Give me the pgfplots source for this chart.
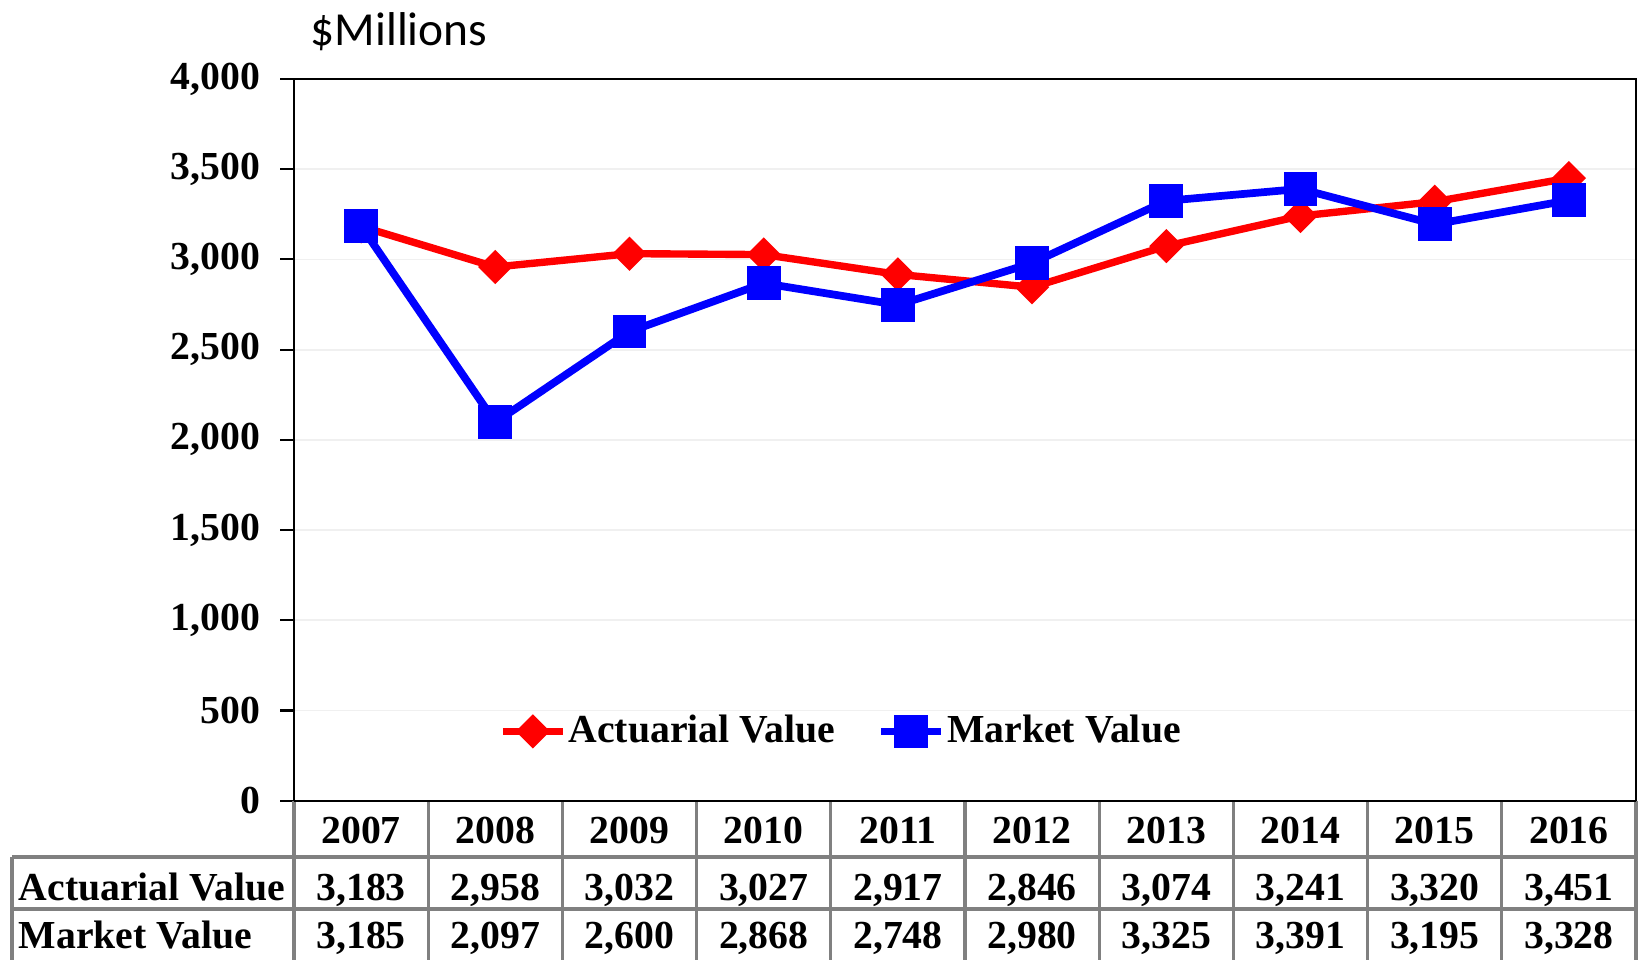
\documentclass[border=0pt]{standalone}
\usepackage{pgfplots}
\pgfplotsset{compat=1.18}
\usepackage{pgfplotstable}
\usepackage{fontspec}
\setmainfont{Liberation Serif}
\newfontfamily\carlito{Carlito}
\definecolor{tblgray}{RGB}{128,128,128}
\pgfplotstableread{
x A M
0 3183 3185
1 2958 2097
2 3032 2600
3 3027 2868
4 2917 2748
5 2846 2980
6 3074 3325
7 3241 3391
8 3320 3195
9 3451 3328
}\datatable
\begin{document}
\begin{tikzpicture}
\useasboundingbox (0,0) rectangle (163.9mm,96mm);
\begin{axis}[
  at={(29.4mm,15.93mm)}, anchor=south west,
  scale only axis, width=134.2mm, height=72.17mm,
  xmin=-0.5, xmax=9.5, ymin=0, ymax=4000,
  xtick=\empty,
  ytick={0,500,...,4000},
  ytick pos=left,
  tick align=outside,
  major tick length=1.4mm,
  tick style={black, line width=0.6pt},
  axis line style={black, line width=0.6pt},
  ymajorgrids, grid style={gray!12, line width=0.5pt},
  /pgf/number format/.cd, 1000 sep={,}, assume math mode=true,
  /pgfplots/.cd,
  yticklabel style={font=\fontsize{11.3}{13}\selectfont\bfseries, anchor=east, inner sep=0pt, xshift=-1.9mm},
  legend style={at={(rel axis cs:0.4076,0.096)}, anchor=center, draw=none, fill=none,
    font=\fontsize{11.3}{13}\selectfont\bfseries, legend columns=2,
    /tikz/every even column/.append style={column sep=4.0mm},
    nodes={inner sep=0.6pt}},
  legend cell align=left,
  clip=false,
]
\addplot[red, line width=2.1pt, mark=square*, mark size=2.4pt, mark options={rotate=45, solid, fill=red}] table[x=x, y=A] {\datatable};
\addlegendentry{Actuarial Value}
\addplot[blue, line width=2.2pt, mark=square*, mark size=3.7pt, mark options={solid, fill=blue}] table[x=x, y=M] {\datatable};
\addlegendentry{Market Value}
\end{axis}
% table below the axis
\draw[tblgray, line width=0.9pt] (1.2mm,10.3mm) -- (163.6mm,10.3mm);
\draw[tblgray, line width=0.9pt] (1.2mm,5.1mm) -- (163.6mm,5.1mm);
\draw[tblgray, line width=0.9pt] (1.2mm,10.3mm) -- (1.2mm,0mm);
\foreach \k in {1,...,10} {
  \draw[tblgray, line width=0.9pt] ({29.4mm+13.42mm*\k},15.93mm) -- ({29.4mm+13.42mm*\k},0mm);
}
\draw[tblgray, line width=0.9pt] (29.4mm,15.93mm) -- (29.4mm,0mm);
\draw[black, line width=0.6pt] (29.4mm,15.93mm) -- (163.6mm,15.93mm);
\node[anchor=base west, inner sep=0pt, font=\fontsize{11.3}{13}\selectfont\bfseries] at (1.8mm,6.0mm) {Actuarial Value};
\node[anchor=base west, inner sep=0pt, font=\fontsize{11.3}{13}\selectfont\bfseries] at (1.8mm,1.17mm) {Market Value};
\foreach \yr/\a/\m [count=\i from 0] in {2007/3183/3185, 2008/2958/2097, 2009/3032/2600, 2010/3027/2868, 2011/2917/2748, 2012/2846/2980, 2013/3074/3325, 2014/3241/3391, 2015/3320/3195, 2016/3451/3328} {
  \node[anchor=base, inner sep=0pt, font=\fontsize{11.3}{13}\selectfont\bfseries] at ({29.4mm+13.42mm*(\i+0.5)},11.67mm) {\yr};
  \node[anchor=base, inner sep=0pt, font=\fontsize{11.3}{13}\selectfont\bfseries] at ({29.4mm+13.42mm*(\i+0.5)},6.0mm) {\pgfmathprintnumber[1000 sep={,}, assume math mode=true]{\a}};
  \node[anchor=base, inner sep=0pt, font=\fontsize{11.3}{13}\selectfont\bfseries] at ({29.4mm+13.42mm*(\i+0.5)},1.17mm) {\pgfmathprintnumber[1000 sep={,}, assume math mode=true]{\m}};
}
\node[anchor=base west, inner sep=0pt, font=\carlito\fontsize{13.5}{15}\selectfont] at (31.0mm,91.5mm) {\$Millions};
\end{tikzpicture}
\end{document}
